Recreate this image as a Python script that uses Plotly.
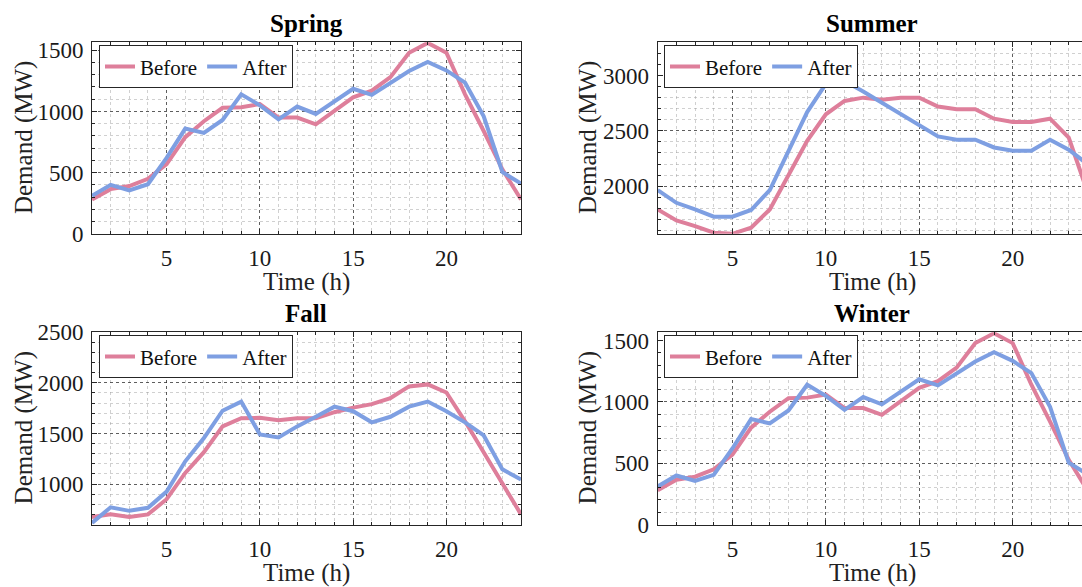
import plotly.graph_objects as go

hours = list(range(1, 25))

spring_before = [280, 365, 390, 450, 570, 790, 920, 1030, 1035, 1060, 950, 950,
                 895, 1010, 1115, 1170, 1280, 1480, 1560, 1480, 1140, 840, 527, 280]
spring_after = [310, 400, 355, 405, 620, 860, 825, 930, 1140, 1050, 935, 1040,
                980, 1080, 1185, 1135, 1235, 1330, 1405, 1335, 1235, 960, 505, 410]

summer_before = [1790, 1690, 1640, 1580, 1570, 1625, 1790, 2100, 2410, 2650, 2770, 2800,
                 2780, 2800, 2800, 2720, 2695, 2695, 2610, 2580, 2580, 2610, 2440, 1950]
summer_after = [1965, 1850, 1790, 1725, 1725, 1785, 1965, 2310, 2670, 2925, 2950, 2855,
                2755, 2650, 2550, 2450, 2420, 2420, 2350, 2320, 2320, 2420, 2330, 2200]

fall_before = [675, 700, 675, 700, 850, 1110, 1315, 1570, 1650, 1655, 1630, 1650,
               1650, 1710, 1755, 1790, 1850, 1965, 1985, 1905, 1620, 1310, 1010, 700]
fall_after = [615, 770, 735, 765, 925, 1225, 1455, 1725, 1815, 1490, 1460, 1570,
              1665, 1765, 1720, 1610, 1665, 1765, 1815, 1720, 1610, 1480, 1145, 1045]

winter_before = [280, 365, 390, 450, 570, 790, 920, 1030, 1035, 1060, 950, 950,
                 895, 1010, 1115, 1170, 1280, 1480, 1560, 1480, 1140, 840, 527, 280]
winter_after = [310, 400, 355, 405, 620, 860, 825, 930, 1140, 1050, 935, 1040,
                980, 1080, 1185, 1135, 1235, 1330, 1405, 1335, 1235, 960, 505, 410]

titles = ["Spring", "Summer", "Fall", "Winter"]
series_names = ["Before", "After"]
colors = ["#DE7F9B", "#7E9FE2"]

W, H = 1082, 587
FONT = "Liberation Serif"
AX = "#262626"

panels = [
    (spring_before, spring_after, (92, 521), (42.3, 233.8), [0, 1565], [1, 24], False),
    (summer_before, summer_after, (657.7, 1082), (42.3, 233.8), [1570, 3300], [1, 23.71], True),
    (fall_before, fall_after, (92, 521), (332.3, 524.5), [600, 2500], [1, 24], False),
    (winter_before, winter_after, (657.7, 1082), (332.3, 524.5), [0, 1568], [1, 23.71], True),
]

fig = go.Figure()
layout = dict(
    width=W, height=H, autosize=False,
    margin=dict(l=0, r=0, t=0, b=0, pad=0, autoexpand=False),
    paper_bgcolor="white", plot_bgcolor="white",
    font=dict(family=FONT, size=21, color="#111"),
    showlegend=True,
    annotations=[],
)

for i, (b, a, xd, yd, yr, xr, is_right) in enumerate(panels):
    k = "" if i == 0 else str(i + 1)
    lg = "legend" if i == 0 else "legend" + str(i + 1)
    for name, vals, col in zip(series_names, [b, a], colors):
        fig.add_trace(go.Scatter(
            x=hours, y=vals, mode="lines", name=name,
            line=dict(color=col, width=4),
            xaxis="x" + k, yaxis="y" + k, legend=lg,
        ))
    layout["xaxis" + k] = dict(
        domain=[xd[0] / W, min(xd[1] / W, 1.0)], range=xr, anchor="y" + k,
        tick0=0, dtick=5, ticks="inside", ticklen=5, tickcolor=AX,
        showline=True, linecolor=AX, linewidth=1, mirror="allticks",
        showgrid=True, gridcolor="rgba(40,40,40,0.75)", griddash="dot", gridwidth=1,
        minor=dict(dtick=1, ticks="inside", ticklen=3, tickcolor=AX,
                   showgrid=True, gridcolor="rgba(150,150,150,0.45)", griddash="dot"),
        tickfont=dict(family=FONT, size=23, color="#1a1a1a"),
        ticklabelstandoff=4, zeroline=False, fixedrange=True, automargin=False,
    )
    layout["yaxis" + k] = dict(
        domain=[1 - yd[1] / H, 1 - yd[0] / H], range=yr, anchor="x" + k,
        tick0=0, dtick=500, ticks="inside", ticklen=5, tickcolor=AX,
        showline=True, linecolor=AX, linewidth=1,
        mirror=False if is_right else "allticks",
        showgrid=True, gridcolor="rgba(40,40,40,0.75)", griddash="dot", gridwidth=1,
        minor=dict(dtick=100, ticks="inside", ticklen=3, tickcolor=AX,
                   showgrid=True, gridcolor="rgba(150,150,150,0.45)", griddash="dot"),
        tickfont=dict(family=FONT, size=23, color="#1a1a1a"),
        ticklabelstandoff=3, zeroline=False, fixedrange=True, automargin=False,
    )
    layout[lg] = dict(
        x=(99 if not is_right else 664) / W,
        y=1 - (yd[0] + 3) / H,
        xanchor="left", yanchor="top", xref="container", yref="container",
        orientation="h", bgcolor="white", bordercolor=AX, borderwidth=1,
        font=dict(family=FONT, size=21, color="#111"),
        itemwidth=30, tracegroupgap=0,
    )
    cx = (306 if not is_right else 872) / W
    ytitle_c = (yd[0] + yd[1]) / 2
    layout["annotations"] += [
        dict(text="<b>" + titles[i] + "</b>", x=cx, y=1 - (yd[0] - 19) / H,
             xref="paper", yref="paper", xanchor="center", yanchor="middle",
             showarrow=False, font=dict(family=FONT, size=25, color="#000")),
        dict(text="Time (h)", x=cx, y=1 - (yd[1] + 48) / H,
             xref="paper", yref="paper", xanchor="center", yanchor="middle",
             showarrow=False, font=dict(family=FONT, size=25, color="#222")),
        dict(text="Demand (MW)", x=(24 if not is_right else 588) / W, y=1 - ytitle_c / H,
             xref="paper", yref="paper", xanchor="center", yanchor="middle",
             textangle=-90, showarrow=False, font=dict(family=FONT, size=25, color="#222")),
    ]

fig.update_layout(**layout)
fig.write_html("out.html", config={"displayModeBar": False})
